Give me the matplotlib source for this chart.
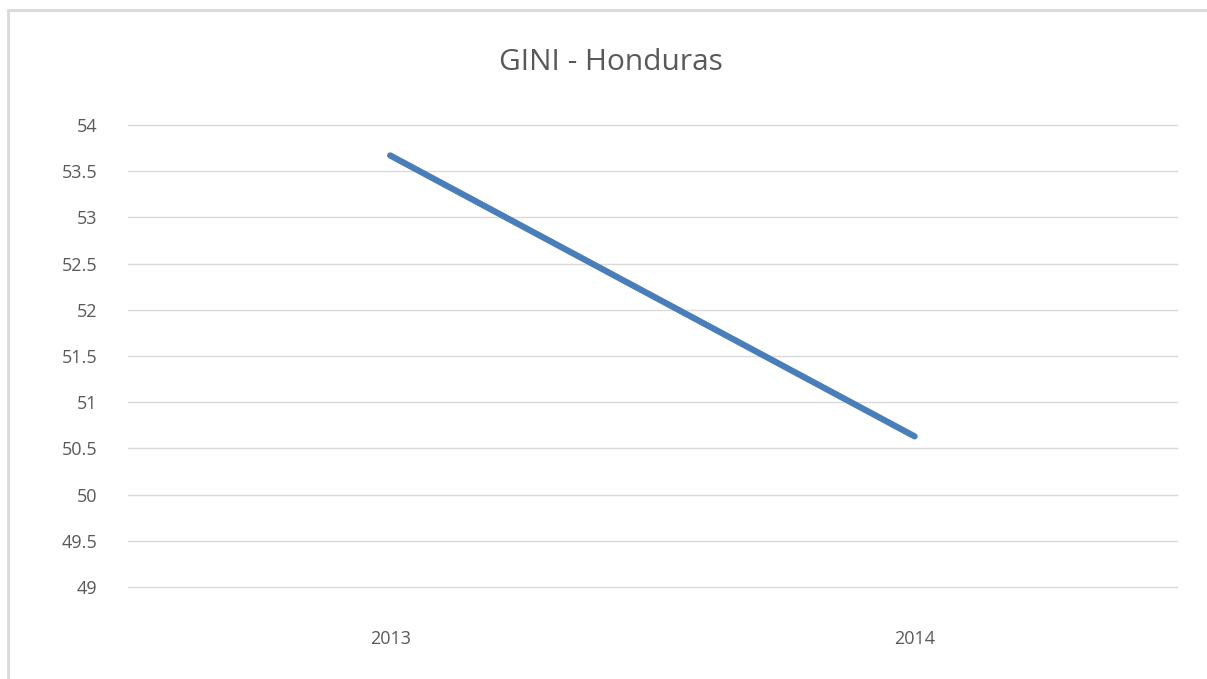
import numpy as np
import matplotlib.pyplot as plt
from matplotlib.patches import Rectangle

years = ['2013', '2014']
gini = [53.67, 50.63]
yticks = [49, 49.5, 50, 50.5, 51, 51.5, 52, 52.5, 53, 53.5, 54]

fig = plt.figure(figsize=(12.07, 6.79), dpi=100)
ax = fig.add_axes([0.106, 0.1355, 0.869, 0.6805])

# outer chart border (Excel style)
fig.patches.append(Rectangle((8 / 1207, -0.05), 1.1, 1 - 10 / 679 + 0.05,
                             transform=fig.transFigure, fill=False,
                             edgecolor='#d9d9d9', linewidth=2))

x = np.arange(len(years))
ax.plot(x, gini, color='#4a7ebb', linewidth=4.5, solid_capstyle='round')

ax.set_xlim(-0.5, len(years) - 0.5)
ax.set_ylim(49, 54)
ax.set_yticks(yticks)
ax.set_yticklabels([f'{v:g}' for v in yticks])
ax.set_xticks(x)
ax.set_xticklabels(years)
ax.tick_params(length=0, labelsize=13, labelcolor='#595959')
ax.tick_params(axis='y', pad=22)
ax.tick_params(axis='x', pad=31)
ax.grid(axis='y', color='#d9d9d9', linewidth=1)
for gl in ax.yaxis.get_gridlines():
    gl.set_clip_on(False)
ax.set_axisbelow(True)
for s in ax.spines.values():
    s.set_visible(False)

fig.text(0.506, 1 - 62 / 679, 'GINI - Honduras', ha='center', va='center',
         fontsize=21.5, color='#595959', family='Open Sans')
for lbl in ax.get_xticklabels() + ax.get_yticklabels():
    lbl.set_family('Open Sans')

fig.savefig('out.png', dpi=100)
